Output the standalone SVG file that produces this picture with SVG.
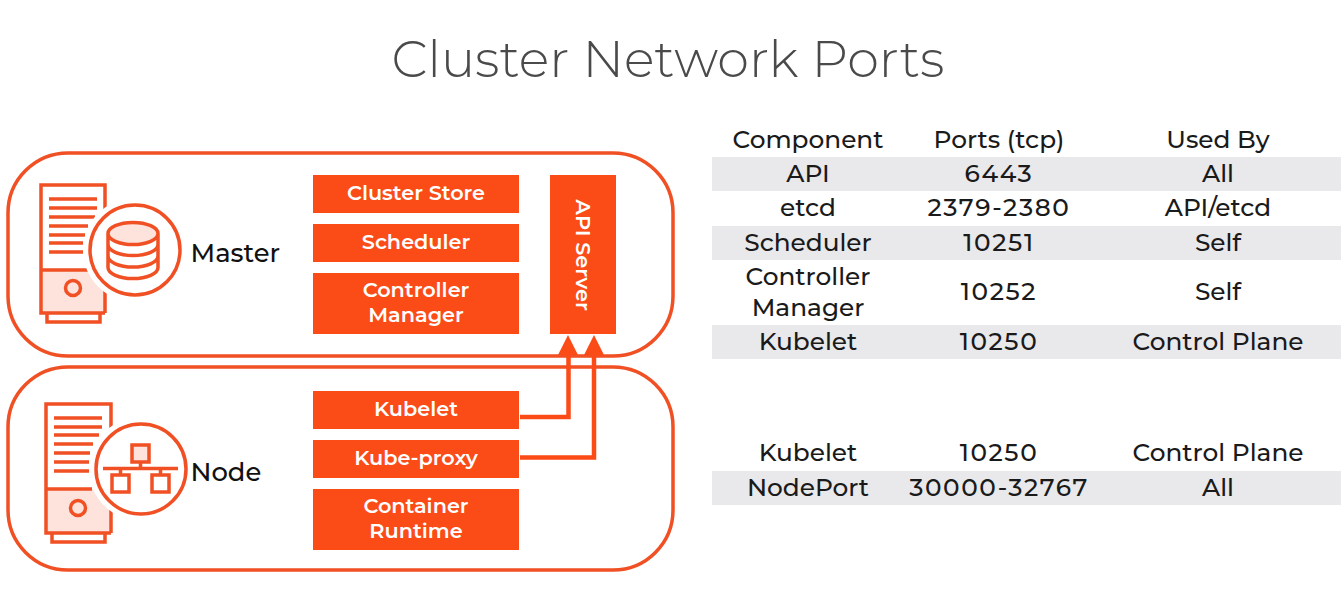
<svg xmlns="http://www.w3.org/2000/svg" width="1341" height="594" viewBox="0 0 1341 594">
<style>
text{font-family:Montserrat,"Open Sans","Noto Sans","Liberation Sans",sans-serif}
.o{fill:none;stroke:#f05023;stroke-width:3.5}
.t{font-size:24.8px;font-weight:500;fill:#1a1a1a;text-anchor:middle}
.n{letter-spacing:1.6px}
.b{fill:#fb4b17}
.w{fill:#fff;font-size:20.8px;font-weight:600;text-anchor:middle}
.k{fill:#111;font-size:25.8px;font-weight:500}
.r{fill:#e9e9ec}
.c{fill:none;stroke:#fb4b17;stroke-width:4.5}
.l{stroke:#f05023;stroke-width:3.5;fill:none}
.p{fill:#fde3db;stroke:none}
.h{fill:#fff;stroke:none}
</style>
<rect width="1341" height="594" fill="#fff"/>
<text x="668" y="77" font-size="51" font-weight="300" fill="#4a4a4a" text-anchor="middle">Cluster Network Ports</text>
<rect id="master" class="o" x="8" y="153" width="665" height="203" rx="60"/>
<rect id="node" class="o" x="8" y="367" width="665" height="203" rx="60"/>
<g id="master-icon">
<path class="p" d="M41 270H105V313H41Z"/>
<path class="l" d="M105 313V185H41V313H105M41 270H88M47 313V322H100V313M49 199H97M49 208H97M49 217H95M49 226H88M49 235H85M49 243H83M49 252H83"/>
<circle class="h" cx="135" cy="250" r="52"/>
<circle class="l" cx="135" cy="250" r="45"/>
<circle class="l" cx="73" cy="288" r="7.5"/>
<ellipse class="p" cx="133" cy="233.5" rx="25" ry="11"/>
<path class="l" d="M108 233.5a25 11 0 0 1 50 0a25 11 0 0 1-50 0v34a25 11 0 0 0 50 0v-34M108 244.5a25 11 0 0 0 50 0M108 256a25 11 0 0 0 50 0"/>
<text class="k" x="190.500" y="262">Master</text>
</g>
<g id="node-icon">
<path class="p" d="M46 489H111V533H46Z"/>
<path class="l" d="M111 533V404H46V533H111M46 489H92M52 533V542H105V533M54 418H102M54 427H102M54 435H99M54 444H93M54 453H90M54 462H89M54 471H89"/>
<circle class="h" cx="141" cy="469" r="52"/>
<circle class="l" cx="141" cy="469" r="45"/>
<circle class="l" cx="78" cy="508" r="7.500"/>
<rect x="132" y="445" width="17" height="17" fill="#fde3db" stroke="#f05023" stroke-width="3.5"/>
<rect class="l" x="112" y="475" width="17" height="17"/>
<rect class="l" x="152" y="475" width="17" height="17"/>
<path class="l" d="M103 468.500H178M140.500 462V468.500M120.500 468.500V475M160.500 468.500V475"/>
<text class="k" x="190.500" y="481">Node</text>
</g>
<g id="cluster-store"><rect class="b" x="313" y="175" width="206" height="38"/><text class="w" x="416" y="200">Cluster Store</text></g>
<g id="scheduler"><rect class="b" x="313" y="224" width="206" height="38"/><text class="w" x="416" y="249">Scheduler</text></g>
<g id="controller-manager"><rect class="b" x="313" y="273" width="206" height="61"/><text class="w" x="416" y="297">Controller</text><text class="w" x="416" y="322">Manager</text></g>
<g id="api-server"><rect class="b" x="550" y="175" width="66" height="159"/><text class="w" transform="translate(576 255) rotate(90)">API Server</text></g>
<g id="kubelet"><rect class="b" x="313" y="391" width="206" height="38"/><text class="w" x="416" y="416">Kubelet</text></g>
<g id="kube-proxy"><rect class="b" x="313" y="440" width="206" height="38"/><text class="w" x="416" y="465">Kube-proxy</text></g>
<g id="container-runtime"><rect class="b" x="313" y="489" width="206" height="61"/><text class="w" x="416" y="513">Container</text><text class="w" x="416" y="538">Runtime</text></g>
<g id="connectors">
<path class="c" d="M520 417H568.500V352"/>
<path class="c" d="M520 457.500H594V352"/>
<path class="b" d="M568 335L578 355H558Z"/>
<path class="b" d="M594 335L604 355H584Z"/>
</g>
<g id="table">
<rect class="r" x="712" y="157" width="629" height="34"/>
<rect class="r" x="712" y="226" width="629" height="34"/>
<rect class="r" x="712" y="325" width="629" height="34"/>
<rect class="r" x="712" y="471" width="629" height="34"/>
<text class="t" x="808" y="148">Component</text><text class="t" x="999" y="148">Ports (tcp)</text><text class="t" x="1218" y="148">Used By</text>
<text class="t" x="808" y="182">API</text><text class="t n" x="999" y="182">6443</text><text class="t" x="1218" y="182">All</text>
<text class="t" x="808" y="216">etcd</text><text class="t n" x="999" y="216">2379-2380</text><text class="t" x="1218" y="216">API/etcd</text>
<text class="t" x="808" y="251">Scheduler</text><text class="t n" x="999" y="251">10251</text><text class="t" x="1218" y="251">Self</text>
<text class="t" x="808" y="285">Controller</text><text class="t" x="808" y="316">Manager</text><text class="t n" x="999" y="300">10252</text><text class="t" x="1218" y="300">Self</text>
<text class="t" x="808" y="350">Kubelet</text><text class="t n" x="999" y="350">10250</text><text class="t" x="1218" y="350">Control Plane</text>
<text class="t" x="808" y="461">Kubelet</text><text class="t n" x="999" y="461">10250</text><text class="t" x="1218" y="461">Control Plane</text>
<text class="t" x="808" y="496">NodePort</text><text class="t n" x="999" y="496">30000-32767</text><text class="t" x="1218" y="496">All</text>
</g>
</svg>
